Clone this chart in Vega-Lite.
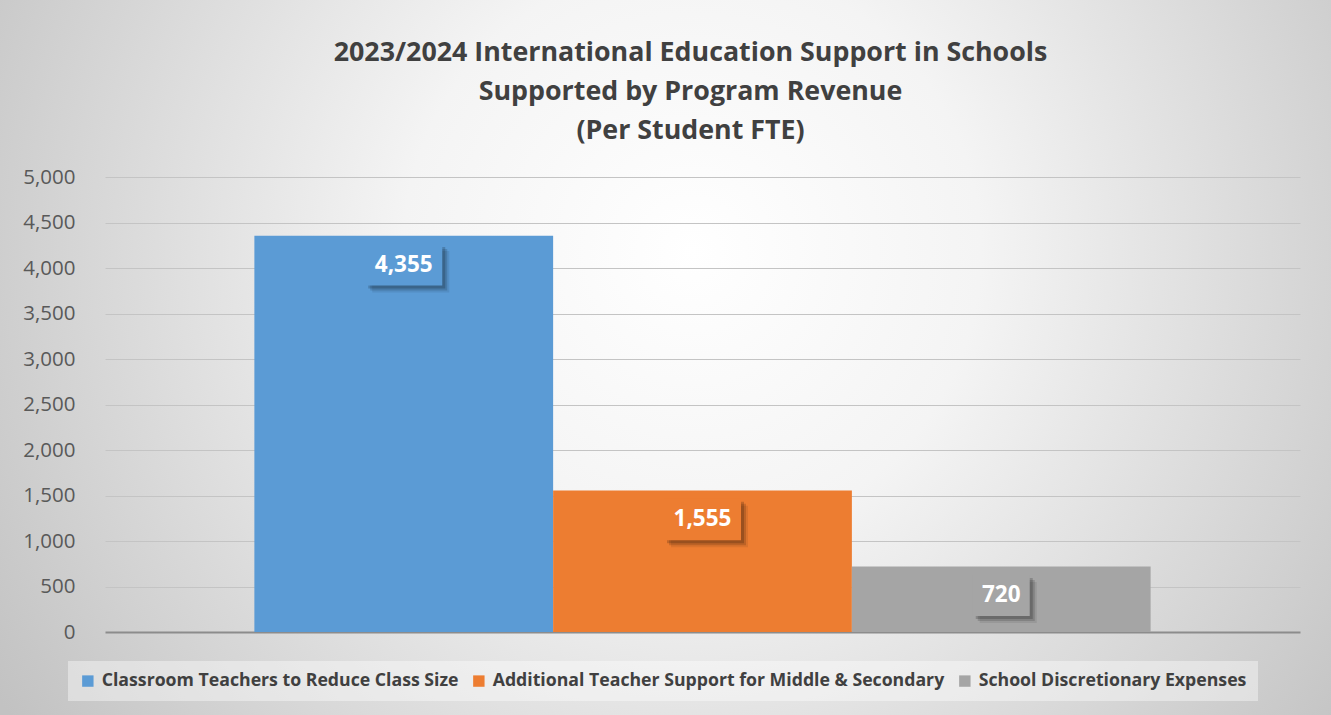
{
  "$schema": "https://vega.github.io/schema/vega-lite/v6.json",
  "width": 1331,
  "height": 715,
  "autosize": {"type": "none"},
  "padding": 0,
  "background": "#d0d0d0",
  "title": {
    "text": ["2023/2024 International Education Support in Schools", "Supported by Program Revenue", "(Per Student FTE)"],
    "orient": "top",
    "anchor": "middle",
    "frame": "group",
    "offset": -145,
    "dx": 25,
    "font": "Open Sans",
    "fontSize": 26.8,
    "fontWeight": "bold",
    "color": "#404040",
    "lineHeight": 39
  },
  "data": {
    "values": [
      {"category": "Classroom Teachers to Reduce Class Size", "value": 4355},
      {"category": "Additional Teacher Support for Middle & Secondary", "value": 1555},
      {"category": "School Discretionary Expenses", "value": 720}
    ]
  },
  "encoding": {
    "x": {
      "field": "category",
      "type": "nominal",
      "sort": null,
      "scale": {"range": [105, 1300], "paddingInner": 0, "paddingOuter": 0.5},
      "axis": null
    },
    "y": {
      "field": "value",
      "type": "quantitative",
      "scale": {"domain": [0, 5000], "range": [632, 177], "nice": false, "zero": true},
      "axis": {
        "values": [0, 500, 1000, 1500, 2000, 2500, 3000, 3500, 4000, 4500, 5000],
        "format": ",d",
        "title": null,
        "domain": false,
        "ticks": false,
        "tickSize": 0,
        "offset": -105,
        "labelPadding": 30,
        "labelFont": "Open Sans",
        "labelFontSize": 20.5,
        "labelColor": "#595959",
        "grid": true,
        "gridColor": {"condition": {"test": "datum.value === 0", "value": "#8c8c8c"}, "value": "#c4c4c4"},
        "gridWidth": {"condition": {"test": "datum.value === 0", "value": 2}, "value": 1}
      }
    },
    "color": {
      "field": "category",
      "type": "nominal",
      "sort": null,
      "scale": {
        "domain": ["Classroom Teachers to Reduce Class Size", "Additional Teacher Support for Middle & Secondary", "School Discretionary Expenses"],
        "range": ["#5b9bd5", "#ed7d31", "#a5a5a5"]
      },
      "legend": {
        "title": null,
        "orient": "none",
        "legendX": 68,
        "legendY": 661,
        "direction": "horizontal",
        "columns": 3,
        "symbolType": "square",
        "symbolSize": 130,
        "symbolStrokeWidth": 0,
        "symbolOpacity": 1,
        "labelFont": "Open Sans",
        "labelFontSize": 17.7,
        "labelFontWeight": "bold",
        "labelColor": "#404040",
        "labelOffset": 5,
        "columnPadding": 11,
        "padding": 11,
        "fillColor": "rgba(255,255,255,0.4)",
        "labelLimit": 700
      }
    }
  },
  "layer": [
    {"mark": {"type": "bar", "opacity": 1}},
    {
      "mark": {"type": "point", "filled": true, "opacity": 0.08, "xOffset": 7, "yOffset": 36, "strokeWidth": 0},
      "encoding": {
        "color": {"value": "#000000"},
        "shape": {"condition": {"test": "datum.value < 1000", "value": "M-1,-0.72H1V0.72H-1Z"}, "value": "M-1,-0.54H1V0.54H-1Z"},
        "size": {"condition": {"test": "datum.value < 1000", "value": 3249}, "value": 5929}
      }
    },
    {
      "mark": {"type": "point", "filled": true, "opacity": 0.14, "xOffset": 5, "yOffset": 34, "strokeWidth": 0},
      "encoding": {
        "color": {"value": "#000000"},
        "shape": {"condition": {"test": "datum.value < 1000", "value": "M-1,-0.72H1V0.72H-1Z"}, "value": "M-1,-0.54H1V0.54H-1Z"},
        "size": {"condition": {"test": "datum.value < 1000", "value": 3249}, "value": 5929}
      }
    },
    {
      "mark": {"type": "point", "filled": true, "opacity": 0.18, "xOffset": 3, "yOffset": 32, "strokeWidth": 0},
      "encoding": {
        "color": {"value": "#000000"},
        "shape": {"condition": {"test": "datum.value < 1000", "value": "M-1,-0.72H1V0.72H-1Z"}, "value": "M-1,-0.54H1V0.54H-1Z"},
        "size": {"condition": {"test": "datum.value < 1000", "value": 3249}, "value": 5929}
      }
    },
    {
      "mark": {"type": "point", "filled": true, "opacity": 1, "yOffset": 29, "strokeWidth": 0},
      "encoding": {
        "shape": {"condition": {"test": "datum.value < 1000", "value": "M-1,-0.72H1V0.72H-1Z"}, "value": "M-1,-0.54H1V0.54H-1Z"},
        "size": {"condition": {"test": "datum.value < 1000", "value": 3249}, "value": 5929}
      }
    },
    {
      "mark": {"type": "text", "font": "Open Sans", "fontSize": 22.5, "fontWeight": "bold", "color": "#ffffff", "baseline": "middle", "align": "center", "dy": 29},
      "encoding": {
        "text": {"field": "value", "type": "quantitative", "format": ","},
        "color": {"value": "#ffffff"}
      }
    }
  ],
  "config": {
    "view": {
      "stroke": null,
      "fill": {
        "gradient": "radial",
        "x1": 0.52, "y1": 0.42, "r1": 0,
        "x2": 0.52, "y2": 0.42, "r2": 0.62,
        "stops": [
          {"offset": 0, "color": "#ffffff"},
          {"offset": 0.35, "color": "#f4f4f4"},
          {"offset": 1, "color": "#c2c2c2"}
        ]
      }
    }
  }
}
